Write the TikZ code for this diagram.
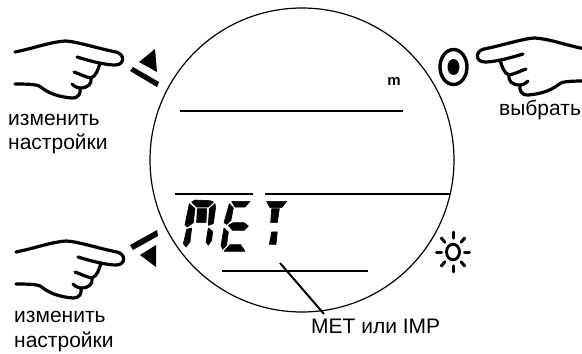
\documentclass[tikz,border=0pt]{standalone}
\usepackage{fontspec}
\setmainfont{Liberation Sans}
\tikzset{
  lab/.style={anchor=base west,inner sep=0pt,font=\fontsize{21}{24}\selectfont},
  hw/.style={draw=black,line width=3.2pt,line cap=round,line join=round},
  thin line/.style={draw=black,line width=2pt},
  seg/.style={fill=black,draw=black,line width=.6pt,line join=round},
}
\newcommand{\handpath}{
  \draw[hw] (15,52) .. controls (35,48) and (50,42) .. (65,41) .. controls (75,41) and (100,49) .. (116,52)
     .. controls (125,54) and (125,65) .. (115,65) .. controls (105,65) and (90,61) .. (77,57);
  \draw[hw] (100,63) .. controls (98,70) and (96,76) .. (91,78) .. controls (85,77) and (80,74) .. (74,72);
  \draw[hw] (91,78) .. controls (92,84) and (88,88) .. (80,88) .. controls (78,88) and (75,87) .. (72,84);
  \draw[hw] (80,88) .. controls (81,93) and (79,98) .. (72,98) .. controls (60,97) and (50,94) .. (42,88)
     .. controls (39,85) and (35,84) .. (15,84);
}
\begin{document}
\begin{tikzpicture}[x=1pt,y=-1pt]
\useasboundingbox (0,0) rectangle (582,354);
\clip (0,0) rectangle (582,354);
% dial
\node[circle,draw=black,line width=1.2pt,minimum size=304pt,inner sep=0pt] (dial) at (302,160) {};
% display lines
\draw[thin line] (180,111) -- (403,111);
\draw[thin line] (175,194) -- (253,194);
\draw[thin line] (265,194) -- (450,194);
\draw[thin line] (222,271) -- (368,271);
% hands
\begin{scope}\handpath\end{scope}
\begin{scope}[shift={(1,200)}]\handpath\end{scope}
\begin{scope}[shift={(600,-3)},x=-1pt]\handpath\end{scope}
% arrows up
\fill (155,49) -- (139,62) -- (157,72) -- cycle;
\fill (130,71) -- (133,67) -- (159,82) -- (157,87) -- cycle;
% arrows down
\fill (130,245) -- (157,230) -- (158,236) -- (133,250) -- cycle;
\fill (140,255) -- (156,245) -- (156,267) -- cycle;
% target
\draw[line width=3.4pt] (453.5,67) ellipse (13.5pt and 17.5pt);
\fill (453.5,67) ellipse (6pt and 8pt);
% sun
\draw[line width=2.8pt] (453,252) ellipse (6.5pt and 7.8pt);
\begin{scope}[shift={(453,252)},yscale=1.2]
\foreach \a in {0,45,...,315}
  \draw[line width=3pt,line cap=round] (\a:11.5) -- (\a:16.5);
\end{scope}
% segments MET
\begin{scope}[shift={(180,192)},x=0.3333pt,y=-0.3333pt]
\fill[seg] (35,30)--(45,24)--(90,26)--(100,30)--(85,45)--(50,45)--cycle;
\fill[seg] (28,35)--(45,50)--(40,92)--(22,105)--(15,98)--cycle;
\fill[seg] (52,50)--(80,50)--(78,92)--(50,92)--cycle;
\fill[seg] (105,35)--(107,45)--(100,95)--(85,100)--(88,50)--cycle;
\fill[seg] (20,112)--(35,108)--(30,150)--(18,165)--(10,155)--cycle;
\fill[seg] (85,108)--(98,118)--(95,145)--(85,160)--(78,150)--cycle;
\end{scope}
\begin{scope}[shift={(220,192)},x=0.3333pt,y=-0.3333pt]
\fill[seg] (35,28)--(90,28)--(75,45)--(45,45)--cycle;
\fill[seg] (28,35)--(40,48)--(33,85)--(20,97)--(12,92)--cycle;
\fill[seg] (25,100)--(40,92)--(72,92)--(85,102)--(72,115)--(38,115)--cycle;
\fill[seg] (12,108)--(25,120)--(20,160)--(8,172)--(3,160)--cycle;
\fill[seg] (12,178)--(30,158)--(62,158)--(75,178)--cycle;
\fill[seg] (140,28)--(200,28)--(185,47)--(150,47)--cycle;
\fill[seg] (155,50)--(178,50)--(172,92)--(152,92)--cycle;
\fill[seg] (155,120)--(172,120)--(168,157)--(148,157)--cycle;
\end{scope}
% labels
\node[lab] (ch1a) at (8,125) {изменить};
\node[lab] (ch1b) at (8,149) {настройки};
\node[lab] (ch2a) at (14,322) {изменить};
\node[lab] (ch2b) at (14,347) {настройки};
\node[lab] (sel) at (499,115) {выбрать};
\node[lab] (met) at (311,333) {MET или IMP};
\node[anchor=base,inner sep=0pt,font=\fontsize{15}{16}\selectfont\bfseries] (unit) at (394,85) {m};
% leader
\coordinate (lead) at (280,263);
\coordinate (leadend) at (324,314);
\draw[line width=2pt] (lead) -- (leadend);
\end{tikzpicture}
\end{document}
